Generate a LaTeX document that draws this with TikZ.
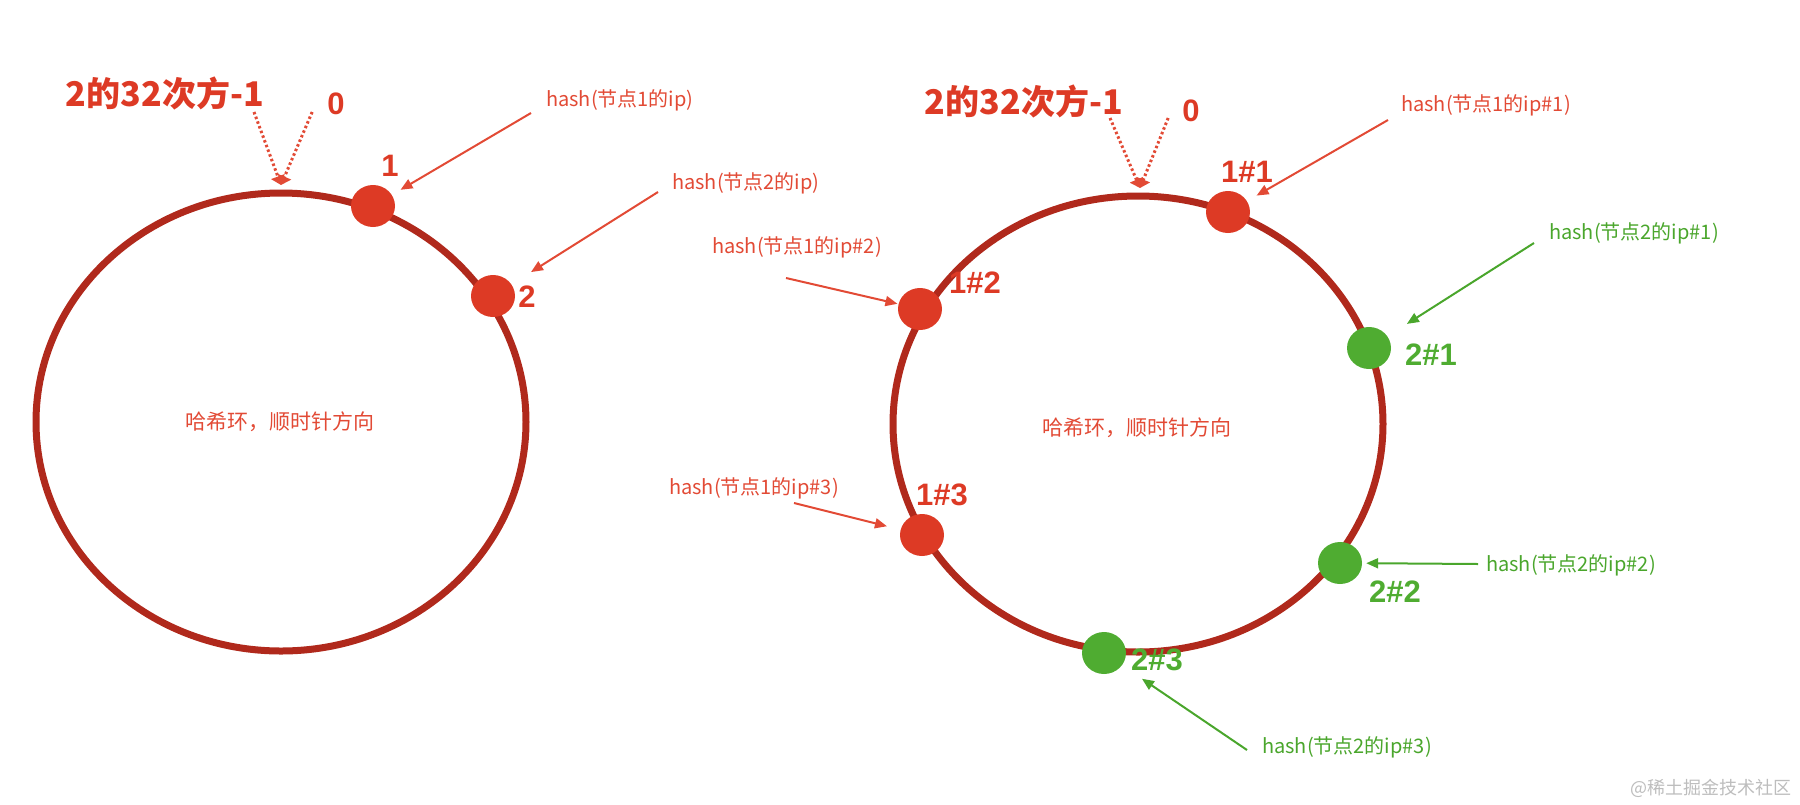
\documentclass[tikz,border=0pt]{standalone}
\usepackage{fontspec}
\setmainfont{Liberation Sans}
\newfontfamily\cjk{Noto Sans CJK SC}
\usetikzlibrary{arrows.meta,shapes.geometric}

\definecolor{ringred}{HTML}{B0291C}
\definecolor{dotred}{HTML}{DD3A25}
\definecolor{txtred}{HTML}{E24A35}
\definecolor{dotgreen}{HTML}{4FAC31}
\definecolor{txtgreen}{HTML}{4AA62C}
\definecolor{wmgray}{HTML}{BDBDBD}

\tikzset{
  ring/.style={draw=ringred, line width=7pt},
  dotnode/.style={ellipse, minimum width=44pt, minimum height=42pt, inner sep=0pt},
  rdot/.style={dotnode, fill=dotred},
  gdot/.style={dotnode, fill=dotgreen},
  numlabel/.style={inner sep=0pt, font=\fontsize{31}{31}\selectfont\bfseries},
  titlelabel/.style={inner sep=0pt, text=dotred, font=\cjk\fontsize{34}{34}\selectfont\bfseries},
  hashlabel/.style={inner sep=0pt, anchor=west, font=\cjk\fontsize{20}{20}\selectfont},
  ringtext/.style={inner sep=0pt, text=txtred, font=\cjk\fontsize{21}{21}\selectfont},
  redarrow/.style={draw=txtred, line width=2pt, -{Triangle[length=12pt,width=10pt]}},
  greenarrow/.style={draw=txtgreen, line width=2pt, -{Triangle[length=12pt,width=10pt]}},
  dotarrow/.style={draw=txtred, line width=3pt, dash pattern=on 2.5pt off 2.5pt,
    -{Triangle[length=9pt,width=14pt]}},
}

\begin{document}
\begin{tikzpicture}[x=1pt, y=-1pt]
\useasboundingbox (0,0) rectangle (1800,804);

% left ring
\draw[ring] (281,422) ellipse [x radius=245pt, y radius=229pt];
\node[ringtext] (cL) at (280,422) {哈希环，顺时针方向};
\node[rdot] (n1) at (373,206) {};
\node[rdot] (n2) at (493,296) {};
\node[numlabel, text=dotred] (l1) at (390,166) {1};
\node[numlabel, text=dotred] (l2) at (527,297) {2};

\node[titlelabel, anchor=east] (tL) at (264,93) {2的32次方-1};
\node[numlabel, text=dotred] (zL) at (336,104) {0};
\coordinate (topL) at (281,185);
\draw[dotarrow] ([shift={(-10,19)}]tL.east) -- (topL);
\draw[dotarrow] ([shift={(-15,8)}]zL.west) -- (topL);

\node[hashlabel, text=txtred] (h1) at (546,100) {hash(节点1的ip)};
\node[hashlabel, text=txtred] (h2) at (672,183) {hash(节点2的ip)};
\draw[redarrow, shorten >=10pt] ([shift={(-15,13)}]h1.west) -- (n1);
\draw[redarrow, shorten >=23pt] ([shift={(-14,9)}]h2.west) -- (n2);

% right ring
\draw[ring] (1138,424) ellipse [x radius=245pt, y radius=228pt];
\node[ringtext] (cR) at (1137,428) {哈希环，顺时针方向};
\node[rdot] (n11) at (1228,212) {};
\node[rdot] (n12) at (920,309) {};
\node[rdot] (n13) at (922,535) {};
\node[gdot] (n21) at (1369,348) {};
\node[gdot] (n22) at (1340,563) {};
\node[gdot] (n23) at (1104,653) {};
\node[numlabel, text=dotred] (l11) at (1247,172) {1\#1};
\node[numlabel, text=dotred] (l12) at (975,283) {1\#2};
\node[numlabel, text=dotred] (l13) at (942,495) {1\#3};
\node[numlabel, text=dotgreen] (l21) at (1431,355) {2\#1};
\node[numlabel, text=dotgreen] (l22) at (1395,592) {2\#2};
\node[numlabel, text=dotgreen] (l23) at (1157,660) {2\#3};

\node[titlelabel, anchor=east] (tR) at (1123,101) {2的32次方-1};
\node[numlabel, text=dotred] (zR) at (1191,111) {0};
\coordinate (topR) at (1140,188);
\draw[dotarrow] ([shift={(-13,17)}]tR.east) -- (topR);
\draw[dotarrow] ([shift={(-14,7)}]zR.west) -- (topR);

\node[hashlabel, text=txtred] (h11) at (1401,105) {hash(节点1的ip\#1)};
\node[hashlabel, text=txtred] (h12) at (712,247) {hash(节点1的ip\#2)};
\node[hashlabel, text=txtred] (h13) at (669,488) {hash(节点1的ip\#3)};
\node[hashlabel, text=txtgreen] (h21) at (1549,233) {hash(节点2的ip\#1)};
\node[hashlabel, text=txtgreen] (h22) at (1486,565) {hash(节点2的ip\#2)};
\node[hashlabel, text=txtgreen] (h23) at (1262,747) {hash(节点2的ip\#3)};
\draw[redarrow, shorten >=11pt] ([shift={(-13,15)}]h11.west) -- (n11);
\draw[redarrow, shorten >=1pt] ([shift={(74,31)}]h12.west) -- (n12);
\draw[redarrow, shorten >=14pt] ([shift={(125,15)}]h13.west) -- (n13);
\draw[greenarrow, shorten >=23pt] ([shift={(-15,10)}]h21.west) -- (n21);
\draw[greenarrow, shorten >=4pt] ([shift={(-8,-1)}]h22.west) -- (n22);
\draw[greenarrow, shorten >=24pt] ([shift={(-15,3)}]h23.west) -- (n23);

\node[inner sep=0pt, anchor=east, text=wmgray, font=\cjk\fontsize{18}{18}\selectfont]
  (wm) at (1792,788) {@稀土掘金技术社区};
\end{tikzpicture}
\end{document}
